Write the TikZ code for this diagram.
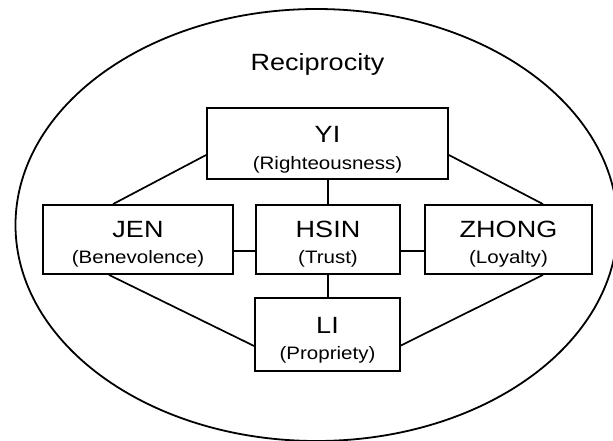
\documentclass[tikz,border=0pt]{standalone}
\usepackage{fontspec}
\setmainfont{Liberation Sans}
\newfontfamily\titlefam[FakeStretch=1.15]{Liberation Sans}
\newfontfamily\subfam[FakeStretch=1.14]{Liberation Sans}
\usetikzlibrary{calc}
\tikzset{
  box/.style={draw, line width=1.8pt, rectangle, inner sep=0pt},
  conn/.style={line width=1.7pt},
  ttl/.style={anchor=base, inner sep=0pt, font=\titlefam\fontsize{23.5}{27}\selectfont},
  sub/.style={anchor=base, inner sep=0pt, font=\subfam\fontsize{18}{22}\selectfont},
}
\begin{document}
\begin{tikzpicture}[x=1pt, y=-1pt]
\useasboundingbox (0,0) rectangle (613,440);
\clip (0,0) rectangle (613,440);
\draw[line width=1.8pt] (316.5,225) ellipse [x radius=301, y radius=216];
\node[ttl] (recip) at (317.5,70) {Reciprocity};

% boxes
\node[box, minimum width=241pt, minimum height=71pt] (yi) at (327.5,143.5) {};
\node[box, minimum width=190pt, minimum height=69pt] (jen) at (138,239.5) {};
\node[box, minimum width=144pt, minimum height=69pt] (hsin) at (328,239.5) {};
\node[box, minimum width=167pt, minimum height=69pt] (zhong) at (508.5,239.5) {};
\node[box, minimum width=145pt, minimum height=73pt] (li) at (327.5,334.5) {};

% texts
\node[ttl] (yit) at (327.5,142) {YI};
\node[sub] (yis) at (327.5,169) {(Righteousness)};
\node[ttl] (jent) at (138,237.5) {JEN};
\node[sub] (jens) at (138,263) {(Benevolence)};
\node[ttl] (hsint) at (328,237.5) {HSIN};
\node[sub] (hsins) at (328,263) {(Trust)};
\node[ttl] (zhongt) at (508.5,237.5) {ZHONG};
\node[sub] (zhongs) at (508.5,263) {(Loyalty)};
\node[ttl] (lit) at (327.5,333) {LI};
\node[sub] (lis) at (327.5,359) {(Propriety)};

% connectors
\draw[conn] ($(yi.west)+(0,11.5)$) -- ($(jen.north)+(-25,0)$);
\draw[conn] ($(yi.east)+(0,11.5)$) -- ($(zhong.north)+(34.5,0)$);
\draw[conn] (hsin.north |- yi.south) -- (hsin.north);
\draw[conn] ($(jen.east)+(0,11.5)$) -- ($(hsin.west)+(0,11.5)$);
\draw[conn] ($(hsin.east)+(0,11.5)$) -- ($(zhong.west)+(0,11.5)$);
\draw[conn] (hsin.south) -- (hsin.south |- li.north);
\draw[conn] ($(jen.south)+(-29,0)$) -- ($(li.west)+(0,11.5)$);
\draw[conn] ($(zhong.south)+(34.5,0)$) -- ($(li.east)+(0,11)$);
\end{tikzpicture}
\end{document}
